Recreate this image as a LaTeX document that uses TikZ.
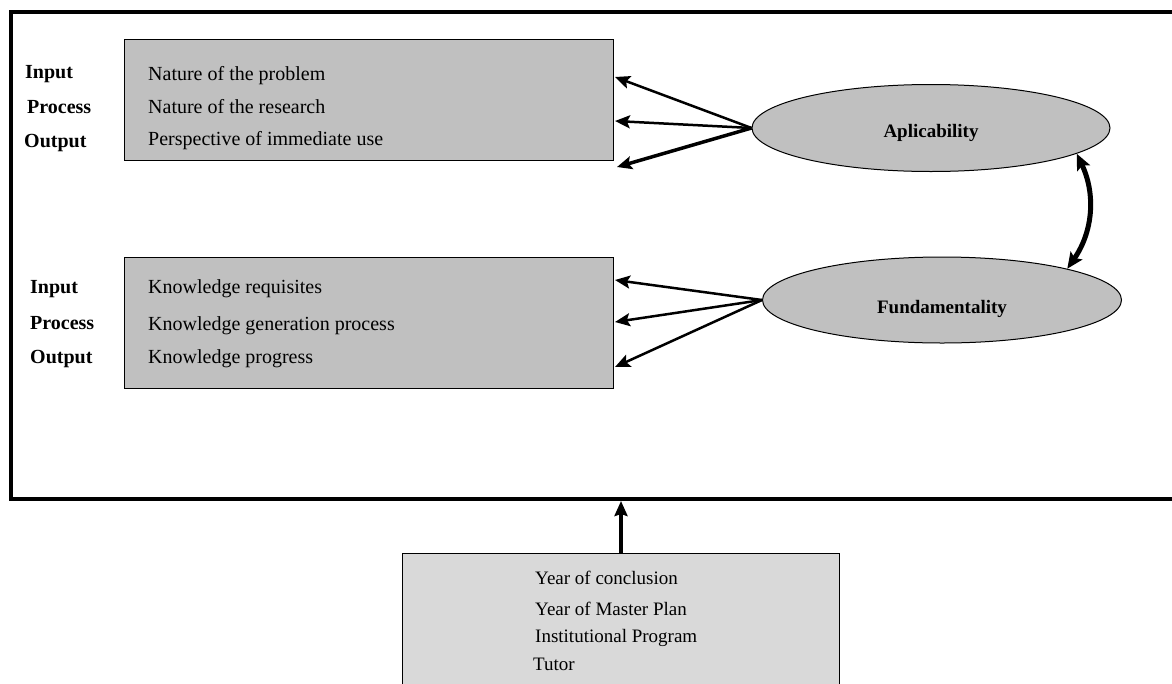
\documentclass[tikz,border=0pt]{standalone}
\usepackage{fontspec}
\setmainfont{Liberation Serif}
\usetikzlibrary{shapes,arrows.meta}
\definecolor{boxgray}{RGB}{192,192,192}
\definecolor{infogray}{RGB}{217,217,217}

\begin{document}
\begin{tikzpicture}[x=1pt,y=-1pt,
        box/.style={draw,fill=boxgray,line width=1pt,anchor=north west,inner sep=0pt},
        item/.style={anchor=base west,inner sep=0pt,font=\fontsize{20}{24}\selectfont},
        tag/.style={anchor=base west,inner sep=0pt,font=\fontsize{20}{24}\selectfont\bfseries},
        oval/.style={ellipse,draw,fill=boxgray,line width=1pt,inner sep=0pt,font=\fontsize{19}{23}\selectfont\bfseries},
        link/.style={line width=2.5pt,-{Stealth[length=15pt,width=13pt,inset=3pt]}}]
        \useasboundingbox (0,0) rectangle (1172,683);

        \node[draw,line width=4pt,anchor=north west,inner sep=0pt,minimum width=1191pt,minimum height=487pt] (Frame) at (9,10) {};

        \node[box,minimum width=489pt,minimum height=121pt] (Upper) at (124,39) {};
        \node[box,minimum width=489pt,minimum height=131pt] (Lower) at (124,257) {};
        \node[box,fill=infogray,minimum width=437pt,minimum height=170pt] (Info) at (402,553) {};

        \node[tag] (In1) at (25,78) {Input};
        \node[tag] (Pr1) at (27,113) {Process};
        \node[tag] (Out1) at (24,147) {Output};
        \node[item] (U1) at (148,80) {Nature of the problem};
        \node[item] (U2) at (148,113) {Nature of the research};
        \node[item] (U3) at (148,145) {Perspective of immediate use};

        \node[tag] (In2) at (30,293) {Input};
        \node[tag] (Pr2) at (30,329) {Process};
        \node[tag] (Out2) at (30,363) {Output};
        \node[item] (L1) at (148,293) {Knowledge requisites};
        \node[item] (L2) at (148,330) {Knowledge generation process};
        \node[item] (L3) at (148,363) {Knowledge progress};

        \node[item,font=\fontsize{19}{23}\selectfont] (I1) at (535,584) {Year of conclusion};
        \node[item,font=\fontsize{19}{23}\selectfont] (I2) at (535,615) {Year of Master Plan};
        \node[item,font=\fontsize{19}{23}\selectfont] (I3) at (535,642) {Institutional Program};
        \node[item,font=\fontsize{19}{23}\selectfont] (I4) at (533,670) {Tutor};

        \node[oval,minimum width=358pt,minimum height=87pt] (Aplic) at (931,128) {\raisebox{-9pt}[0pt][0pt]{Aplicability}};
        \node[oval,minimum width=359pt,minimum height=86pt] (Fund) at (942,300) {\raisebox{-13pt}[0pt][0pt]{Fundamentality}};

        \coordinate (t1) at (615,77);
        \coordinate (t2) at (615,121);
        \coordinate (t3) at (617,167);
        \coordinate (t4) at (615,280);
        \coordinate (t5) at (615,322);
        \coordinate (t6) at (615,367);

        \draw[link] (Aplic.west) -- (t1);
        \draw[link] (Aplic.west) -- (t2);
        \draw[link,line width=3.5pt] (Aplic.west) -- (t3);
        \draw[link] (Fund.west) -- (t4);
        \draw[link] (Fund.west) -- (t5);
        \draw[link] (Fund.west) -- (t6);

        \draw[line width=5pt,{Stealth[length=16pt,width=14pt,inset=3pt]}-{Stealth[length=16pt,width=14pt,inset=3pt]}] (Aplic.-10) to[bend left=30] (Fund.14);

        \draw[line width=3.5pt,-{Stealth[length=15pt,width=13pt,inset=2pt]}] (Info.north) -- (Info.north |- Frame.south);
      \end{tikzpicture}
\end{document}
